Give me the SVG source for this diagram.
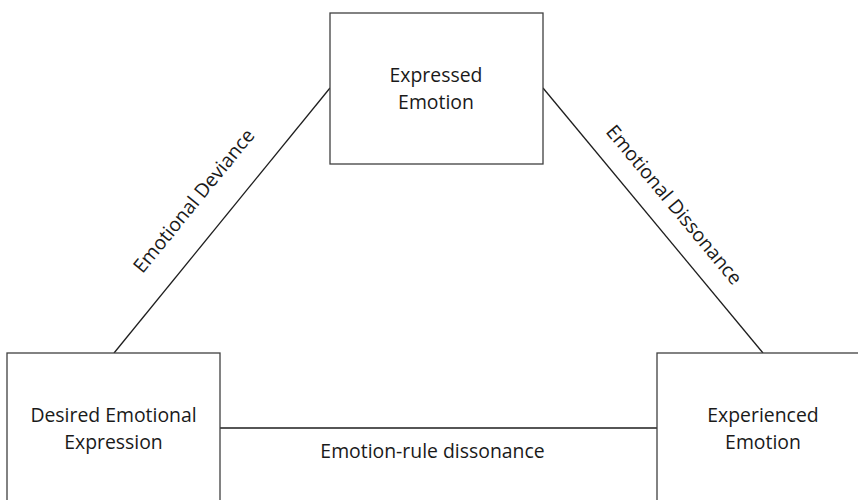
<svg xmlns="http://www.w3.org/2000/svg" width="858" height="500" viewBox="0 0 858 500">
<style>
.box{fill:#fff;stroke:#404040;stroke-width:1.3}
.conn{stroke:#1e1e1e;stroke-width:1.3;fill:none}
text{font-family:"Open Sans","Noto Sans",sans-serif;font-size:19.4px;fill:#1a1a1a;text-anchor:middle}
</style>
<rect width="858" height="500" fill="#fff"/>
<g id="connectors">
<line class="conn" x1="114" y1="353" x2="330" y2="88"/>
<line class="conn" x1="543" y1="88" x2="763" y2="353"/>
<line class="conn" x1="220" y1="428" x2="657" y2="428"/>
<text x="199" y="205" transform="rotate(-50.8 199 205)">Emotional Deviance</text>
<text x="669" y="209" transform="rotate(50.3 669 209)">Emotional Dissonance</text>
<text x="432.5" y="458">Emotion-rule dissonance</text>
</g>
<g id="expressed">
<rect class="box" x="330" y="13" width="213" height="151"/>
<text x="436" y="82">Expressed</text>
<text x="436" y="109">Emotion</text>
</g>
<g id="desired">
<rect class="box" x="7" y="353" width="213" height="160"/>
<text x="113.5" y="422">Desired Emotional</text>
<text x="113.5" y="449">Expression</text>
</g>
<g id="experienced">
<rect class="box" x="657" y="353" width="213" height="160"/>
<text x="763" y="422">Experienced</text>
<text x="763" y="449">Emotion</text>
</g>
</svg>
